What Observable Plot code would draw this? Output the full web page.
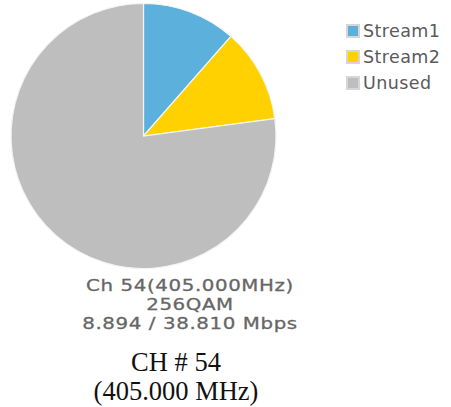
<!DOCTYPE html>
<html><head><meta charset="utf-8">
<script src="https://cdn.jsdelivr.net/npm/d3@7"></script>
<script src="https://cdn.jsdelivr.net/npm/@observablehq/plot@0.6"></script>
<style>
body{margin:0;background:#fff;}
#wrap{position:relative;width:451px;height:407px;overflow:hidden;background:#fff;}
#chart{position:absolute;left:0;top:0;}
#legend{position:absolute;left:346px;top:18px;font-family:"DejaVu Sans",Verdana,sans-serif;font-size:17.5px;color:#5a5a5a;letter-spacing:0.4px;}
.row{display:flex;align-items:center;height:26px;}
.sw{width:10px;height:10px;border:2px solid #d6d6d6;margin-right:3px;flex:none;}
#caption{position:absolute;left:60px;width:260px;top:277px;text-align:center;font-family:"DejaVu Sans",Verdana,sans-serif;font-size:16.5px;line-height:18.8px;color:#666;letter-spacing:0.5px;-webkit-text-stroke:0.3px #666;transform:scaleX(1.2);transform-origin:50% 0;}
#title{position:absolute;left:26px;width:300px;top:347.5px;text-align:center;font-family:"Liberation Serif","Times New Roman",serif;font-size:26.5px;line-height:29px;color:#111;}
</style></head><body>
<div id="wrap"><div id="chart"></div><div id="legend"></div><div id="caption"></div><div id="title"></div></div>
<script>
const streams = ["Stream1", "Stream2", "Unused"];
const rates = [4.45, 4.444, 29.916];
const colors = ["#5cb0dc", "#ffd100", "#bebebe"];
const captionLines = ["Ch 54(405.000MHz)", "256QAM", "8.894 / 38.810 Mbps"];
const titleLines = ["CH # 54", "(405.000 MHz)"];

const data = streams.map((s, i) => ({stream: s, rate: rates[i]}));
const arcs = d3.pie().sort(null).value(d => d.rate)(data);
const colorOf = d3.scaleOrdinal(streams, colors);

function pieMark(index, scales, values, dimensions, context) {
  const cx = scales.x(0), cy = scales.y(0);
  const r = Math.abs(scales.x(1) - scales.x(0));
  const g = d3.create("svg:g").attr("transform", `translate(${cx},${cy})`);
  const arc = d3.arc().innerRadius(0).outerRadius(r);
  g.selectAll("path").data(arcs).join("path")
    .attr("d", arc)
    .attr("fill", d => colorOf(d.data.stream))
    .attr("stroke", "#f4f4f4")
    .attr("stroke-width", 1.2);
  return g.node();
}

const chart = Plot.plot({
  width: 451,
  height: 272,
  margin: 0,
  x: {domain: [-1, 1], range: [11, 276], axis: null},
  y: {domain: [-1, 1], range: [268.5, 3.5], axis: null},
  marks: [
    Plot.dot([{cx: 0, cy: 0}], {x: "cx", y: "cy", r: 0, stroke: "none"}),
    pieMark
  ]
});
document.getElementById("chart").appendChild(chart);

const legend = d3.select("#legend");
streams.forEach((s, i) => {
  const row = legend.append("div").attr("class", "row");
  row.append("div").attr("class", "sw").style("background", colors[i]);
  row.append("span").text(s);
});
d3.select("#caption").selectAll("div").data(captionLines).join("div").text(d => d);
d3.select("#title").selectAll("div").data(titleLines).join("div").text(d => d);
</script>
</body></html>
